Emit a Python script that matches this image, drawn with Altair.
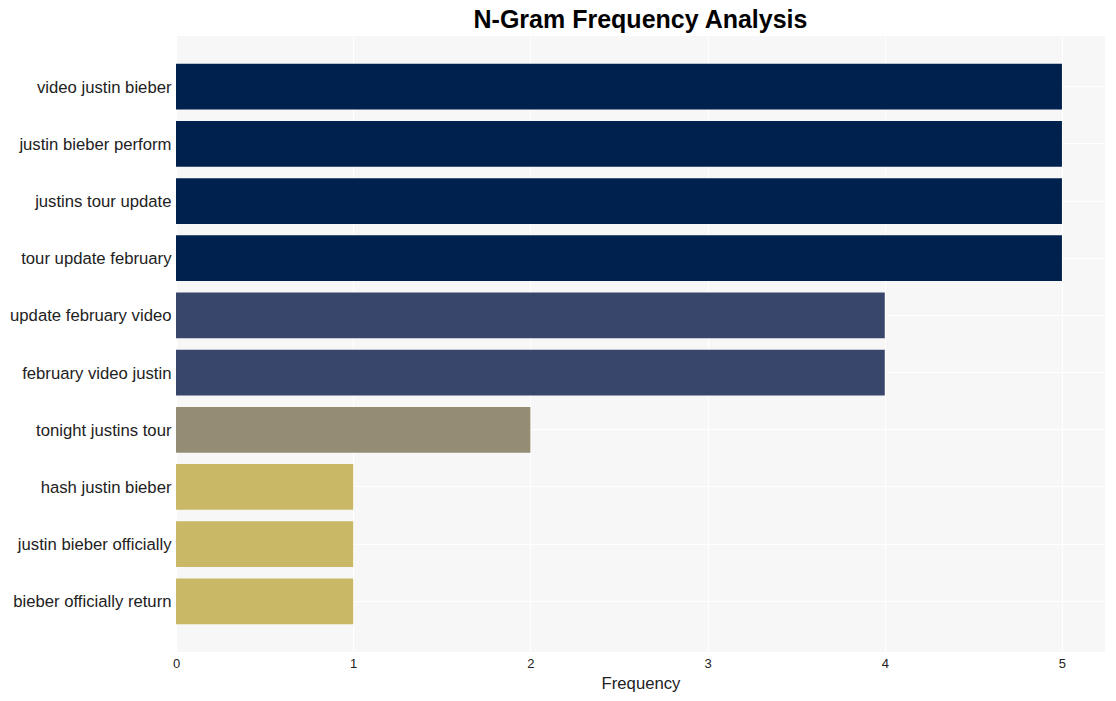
import altair as alt
import pandas as pd

ngrams = [
    "video justin bieber",
    "justin bieber perform",
    "justins tour update",
    "tour update february",
    "update february video",
    "february video justin",
    "tonight justins tour",
    "hash justin bieber",
    "justin bieber officially",
    "bieber officially return",
]
frequency = [5, 5, 5, 5, 4, 4, 2, 1, 1, 1]

color_domain = [1, 2, 4, 5]
color_range = ["#c9b865", "#958c74", "#38466c", "#00214e"]

df = pd.DataFrame({"ngram": ngrams, "Frequency": frequency})

chart = (
    alt.Chart(df)
    .mark_bar()
    .encode(
        y=alt.Y(
            "ngram:N",
            sort=ngrams,
            title=None,
            scale=alt.Scale(paddingInner=0.2, paddingOuter=0.485),
            axis=alt.Axis(
                ticks=False,
                domain=False,
                labelFont="Liberation Sans",
                labelFontSize=16.7,
                labelColor="#222222",
                labelPadding=5,
                labelOffset=1,
                grid=True,
                gridColor="white",
                gridWidth=1,
            ),
        ),
        x=alt.X(
            "Frequency:Q",
            scale=alt.Scale(domain=[0, 5.243], nice=False, zero=True),
            axis=alt.Axis(
                values=[0, 1, 2, 3, 4, 5],
                ticks=False,
                domain=False,
                labelFlush=False,
                labelFont="Liberation Sans",
                labelFontSize=13,
                labelColor="#222222",
                labelPadding=5,
                grid=True,
                gridColor="white",
                gridWidth=1,
                title="Frequency",
                titleFont="Liberation Sans",
                titleFontSize=16.7,
                titleFontWeight="normal",
                titleColor="#222222",
                titlePadding=5,
            ),
        ),
        color=alt.Color(
            "Frequency:O",
            scale=alt.Scale(domain=color_domain, range=color_range),
            legend=None,
        ),
    )
    .properties(
        width=929,
        height=616,
        autosize=alt.AutoSizeParams(type="none"),
        padding={"left": 176, "top": 36, "right": 11, "bottom": 49},
        title=alt.TitleParams(
            "N-Gram Frequency Analysis",
            font="Liberation Sans",
            fontSize=25,
            fontWeight="bold",
            color="black",
            anchor="middle",
            offset=3,
        ),
    )
    .configure(background="white")
    .configure_view(fill="#f7f7f7", stroke=None)
)

chart.save("out.html", embed_options={"renderer": "svg", "actions": False})
